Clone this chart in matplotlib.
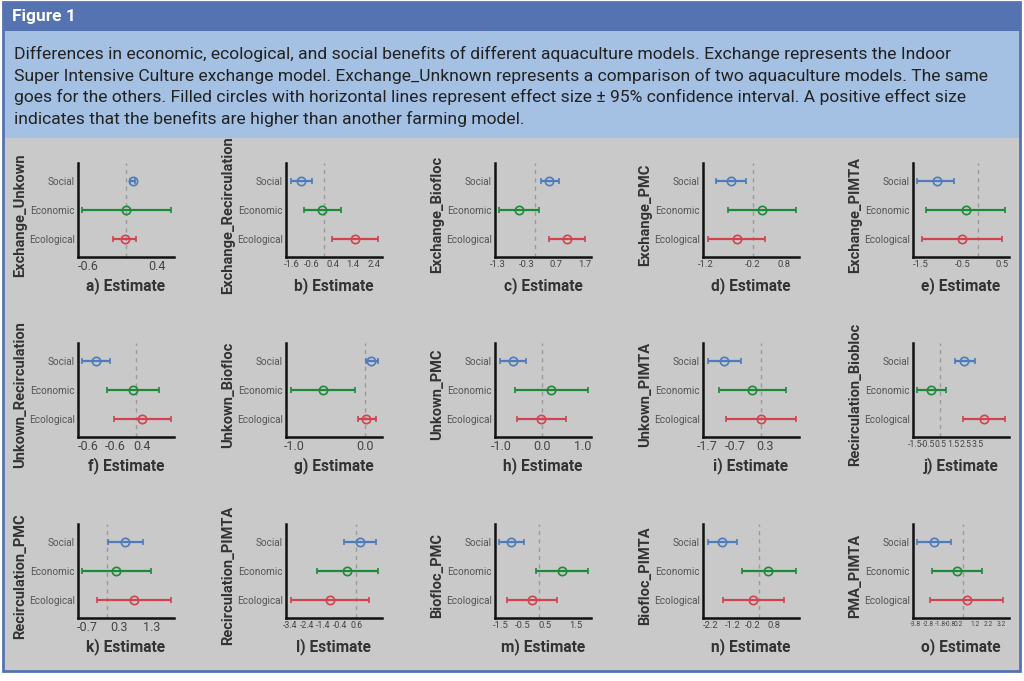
import matplotlib
matplotlib.use("Agg")
import matplotlib.pyplot as plt
from matplotlib.patches import Rectangle
import numpy as np

# ---------------- data ----------------
categories = ["Social", "Economic", "Ecological"]
panel_letters = list("abcdefghijklmno")
comparisons = ["Exchange_Unkown", "Exchange_Recirculation", "Exchange_Biofloc", "Exchange_PMC", "Exchange_PIMTA",
               "Unkown_Recirculation", "Unkown_Biofloc", "Unkown_PMC", "Unkown_PIMTA", "Recirculation_Biobloc",
               "Recirculation_PMC", "Recirculation_PIMTA", "Biofloc_PMC", "Biofloc_PIMTA", "PMA_PIMTA"]

# effect size estimates [Social, Economic, Ecological]
est_a = [0.10, 0.00, -0.02];  lo_a = [0.06, -0.63, -0.18];  hi_a = [0.13, 0.65, 0.15]
est_b = [-1.12, -0.10, 1.47]; lo_b = [-1.62, -0.98, 0.35];  hi_b = [-0.61, 0.80, 2.59]
est_c = [0.46, -0.55, 1.10];  lo_c = [0.20, -1.24, 0.48];   hi_c = [0.81, 0.11, 1.73]
est_d = [-0.56, 0.24, -0.40]; lo_d = [-0.94, -0.64, -1.16]; hi_d = [-0.18, 1.11, 0.32]
est_e = [-1.01, -0.28, -0.38]; lo_e = [-1.48, -1.26, -1.37]; hi_e = [-0.57, 0.68, 0.60]
est_f = [-1.44, -0.09, 0.24]; lo_f = [-1.94, -1.04, -0.79]; hi_f = [-0.94, 0.87, 1.30]
est_g = [0.09, -0.59, 0.02];  lo_g = [0.01, -1.04, -0.10];  hi_g = [0.18, -0.14, 0.15]
est_h = [-0.72, 0.23, -0.02]; lo_h = [-1.03, -0.66, -0.60]; hi_h = [-0.38, 1.12, 0.59]
est_i = [-1.27, -0.32, 0.00]; lo_i = [-1.83, -1.45, -1.21]; hi_i = [-0.68, 0.87, 1.20]
est_j = [1.91, -0.75, 3.50];  lo_j = [1.19, -1.84, 1.81];   hi_j = [2.75, 0.47, 5.19]
est_k = [0.57, 0.30, 0.85];   lo_k = [0.04, -0.76, -0.29];  hi_k = [1.14, 1.38, 2.02]
est_l = [0.24, -0.54, -1.60]; lo_l = [-0.74, -2.36, -3.96]; hi_l = [1.20, 1.30, 0.80]
est_m = [-1.16, 0.94, -0.29]; lo_m = [-1.65, -0.13, -1.34]; hi_m = [-0.61, 2.02, 0.73]
est_n = [-1.74, 0.46, -0.27]; lo_n = [-2.43, -0.81, -1.71]; hi_n = [-1.02, 1.78, 1.21]
est_o = [-2.27, -0.45, 0.30]; lo_o = [-3.55, -2.39, -2.60]; hi_o = [-0.97, 1.52, 3.15]

# x-axis ranges and tick labels (as printed in the figure)
xlims = [(-0.69, 0.69), (-1.86, 2.80), (-1.39, 1.92), (-1.28, 1.19), (-1.59, 0.77),
         (-2.10, 1.40), (-1.11, 0.24), (-1.15, 1.20), (-1.99, 1.31), (-2.19, 5.47),
         (-0.89, 2.10), (-4.26, 1.56), (-1.82, 2.13), (-2.65, 1.93), (-3.90, 3.60)]
tick_pos = [[-0.55, 0.45], [-1.6, -0.6, 0.4, 1.4, 2.4], [-1.3, -0.3, 0.7, 1.7], [-1.2, 0.0, 0.8], [-1.41, -0.38, 0.59],
            [-1.74, -0.73, 0.24], [-1.0, 0.0], [-1.0, 0.0, 1.0], [-1.85, -0.89, 0.13], [-2, -1, 0, 1, 2, 3],
            [-0.6, 0.4, 1.4], [-4, -3, -2, -1, 0], [-1.6, -0.7, 0.25, 1.5], [-2.29, -1.21, -0.27, 0.72],
            [-3.7, -2.7, -1.75, -1.0, -0.4, 0.95, 2.0, 3.0]]
tick_lbl = [["-0.6", "0.4"], ["-1.6", "-0.6", "0.4", "1.4", "2.4"], ["-1.3", "-0.3", "0.7", "1.7"], ["-1.2", "-0.2", "0.8"],
            ["-1.5", "-0.5", "0.5"], ["-0.6", "-0.6", "0.4"], ["-1.0", "0.0"], ["-1.0", "0.0", "1.0"], ["-1.7", "-0.7", "0.3"],
            ["-1.5", "-0.5", "0.5", "1.5", "2.5", "3.5"], ["-0.7", "0.3", "1.3"], ["-3.4", "-2.4", "-1.4", "-0.4", "0.6"],
            ["-1.5", "-0.5", "0.5", "1.5"], ["-2.2", "-1.2", "-0.2", "0.8"],
            ["-3.8", "-2.8", "-1.8", "-0.8", "0.2", "1.2", "2.2", "3.2"]]
tick_fs = [9, 6.8, 6.8, 6.8, 6.8, 9, 9, 9, 9, 6.3, 9, 6.3, 6.8, 6.8, 4.8]

caption_lines = [
    "Differences in economic, ecological, and social benefits of different aquaculture models. Exchange represents the Indoor",
    "Super Intensive Culture exchange model. Exchange_Unknown represents a comparison of two aquaculture models. The same",
    "goes for the others. Filled circles with horizontal lines represent effect size \u00b1 95% confidence interval. A positive effect size",
    "indicates that the benefits are higher than another farming model.",
]

ests = [est_a, est_b, est_c, est_d, est_e, est_f, est_g, est_h, est_i, est_j, est_k, est_l, est_m, est_n, est_o]
los = [lo_a, lo_b, lo_c, lo_d, lo_e, lo_f, lo_g, lo_h, lo_i, lo_j, lo_k, lo_l, lo_m, lo_n, lo_o]
his = [hi_a, hi_b, hi_c, hi_d, hi_e, hi_f, hi_g, hi_h, hi_i, hi_j, hi_k, hi_l, hi_m, hi_n, hi_o]

colors = ["#4d7cbc", "#1e8a38", "#d1434f"]

# ---------------- figure ----------------
W, H = 1024, 681
fig = plt.figure(figsize=(W / 100, H / 100), dpi=100)
fig.patch.set_facecolor("white")

bg = fig.add_axes([0, 0, 1, 1], zorder=-5)
bg.set_xlim(0, W)
bg.set_ylim(H, 0)
bg.axis("off")
bg.add_patch(Rectangle((3, 138), 1017, 533, facecolor="#c9c9c9", edgecolor="none"))
bg.add_patch(Rectangle((3, 31), 1017, 107, facecolor="#a4c0e3", edgecolor="none"))
bg.add_patch(Rectangle((3, 2), 1017, 29, facecolor="#5473b0", edgecolor="none"))
bg.add_patch(Rectangle((3, 2), 1017, 669, facecolor="none", edgecolor="#5473b0", lw=2))
bg.text(12, 16.5, "Figure 1", color="white", fontsize=12.5, fontweight="bold", family="Roboto",
        ha="left", va="center")
for k, line in enumerate(caption_lines):
    bg.text(14, 54 + k * 21.5, line, color="#222222", fontsize=12.6, family="Roboto",
            ha="left", va="center")

col_left = [78, 286, 495, 703, 913]
row_top = [163, 343, 524]
aw, ah = 96, 94

narrow = ["Liberation Sans Narrow", "Roboto", "DejaVu Sans"]

for p in range(15):
    r, c = divmod(p, 5)
    x0, y0 = col_left[c], row_top[r]
    ax = fig.add_axes([x0 / W, 1 - (y0 + ah) / H, aw / W, ah / H])
    ax.set_facecolor("none")
    ypos = [3, 2, 1]
    for i in range(3):
        e, lo, hi = ests[p][i], los[p][i], his[p][i]
        ax.errorbar([e], [ypos[i]], xerr=[[e - lo], [hi - e]], fmt="o", color=colors[i],
                    mfc="none", mec=colors[i], ms=6, mew=1.2, lw=1.6, capsize=2.3, capthick=1.5, zorder=3)
    ax.axvline(0, color="#9a9a9a", lw=1.0, ls=(0, (3, 3)), zorder=1)
    ax.set_xlim(*xlims[p])
    ax.set_ylim(0.4, 3.6)
    for s in ["top", "right"]:
        ax.spines[s].set_visible(False)
    for s in ["left", "bottom"]:
        ax.spines[s].set_linewidth(1.8)
        ax.spines[s].set_color("#111111")
    ax.set_yticks(ypos)
    ax.set_yticklabels(categories, fontsize=7.2, color="#555555", family=narrow)
    ax.set_xticks(tick_pos[p])
    ax.set_xticklabels(tick_lbl[p], fontsize=tick_fs[p], color="#444444", family=narrow)
    ax.tick_params(axis="both", length=0, pad=2.5)
    ax.text(-58 / aw, 0.45, comparisons[p], transform=ax.transAxes, rotation=90, ha="center", va="center",
            fontsize=10.5, fontweight="bold", color="#333333", family="Roboto")
    ax.text(0.5, -29 / ah, f"{panel_letters[p]}) Estimate", transform=ax.transAxes, ha="center", va="center",
            fontsize=11.2, fontweight="bold", color="#333333", family="Roboto")

fig.savefig("out.png", dpi=100, facecolor=fig.get_facecolor())
